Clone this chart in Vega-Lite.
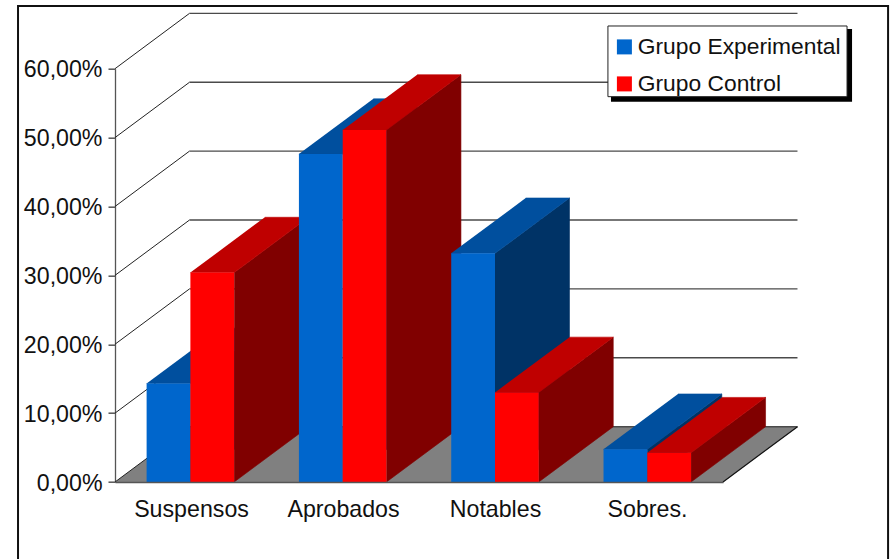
{
  "$schema": "https://vega.github.io/schema/vega-lite/v6.json",
  "width": 608,
  "height": 413.3,
  "padding": {"left": 115, "top": 68.7, "right": 167, "bottom": 77},
  "autosize": {"type": "none"},
  "background": "white",
  "config": {
    "view": {"stroke": null},
    "font": "Liberation Sans"
  },
  "datasets": {
    "resultados": [
      {"categoria": "Suspensos", "grupo": "Grupo Experimental", "valor": 14.3},
      {"categoria": "Suspensos", "grupo": "Grupo Control", "valor": 30.4},
      {"categoria": "Aprobados", "grupo": "Grupo Experimental", "valor": 47.6},
      {"categoria": "Aprobados", "grupo": "Grupo Control", "valor": 51.1},
      {"categoria": "Notables", "grupo": "Grupo Experimental", "valor": 33.2},
      {"categoria": "Notables", "grupo": "Grupo Control", "valor": 13.0},
      {"categoria": "Sobres.", "grupo": "Grupo Experimental", "valor": 4.75},
      {"categoria": "Sobres.", "grupo": "Grupo Control", "valor": 4.25}
    ],
    "niveles": [
      {"nivel": 0}, {"nivel": 10}, {"nivel": 20}, {"nivel": 30},
      {"nivel": 40}, {"nivel": 50}, {"nivel": 60}
    ],
    "esquinas": [{"esquina": 0}, {"esquina": 1}, {"esquina": 2}, {"esquina": 3}],
    "unico": [{"uno": 1}]
  },
  "layer": [
    {
      "data": {"name": "unico"},
      "mark": {"type": "rect", "fill": null, "stroke": "#111111", "strokeWidth": 2},
      "encoding": {
        "x": {"datum": -0.638, "type": "quantitative", "scale": {"domain": [0, 4], "nice": false},
          "axis": {
            "values": [0.5, 1.5, 2.5, 3.5],
            "labelExpr": "['Suspensos','Aprobados','Notables','Sobres.'][floor(datum.value)]",
            "title": null, "grid": false, "tickSize": 0, "labelPadding": 16, "labelFontSize": 23.2,
            "labelColor": "#111111", "domainColor": "#555555", "domainWidth": 1.5, "zindex": 1, "labelFlush": false, "labelOverlap": false
          }
        },
        "x2": {"datum": 5.086},
        "y": {"datum": 69.09, "type": "quantitative", "scale": {"domain": [0, 60], "nice": false},
          "axis": {
            "values": [0, 10, 20, 30, 40, 50, 60],
            "labelExpr": "replace(format(datum.value, '.2f'), '.', ',') + '%'",
            "title": null, "grid": false, "tickSize": 7, "tickColor": "#555555", "tickWidth": 1.5, "labelPadding": 6, "labelFontSize": 23.2, "labelOffset": 1,
            "labelColor": "#111111", "domainColor": "#555555", "domainWidth": 1.3
          }
        },
        "y2": {"datum": -20}
      }
    },
    {
      "data": {"name": "esquinas"},
      "transform": [
        {"calculate": "[0, 4, 4.49, 0.49][datum.esquina]", "as": "px"},
        {"calculate": "[0, 0, 8.03, 8.03][datum.esquina]", "as": "py"}
      ],
      "mark": {"type": "line", "fill": "#808080", "stroke": "#808080", "strokeWidth": 0.5},
      "encoding": {
        "x": {"field": "px", "type": "quantitative", "scale": {"domain": [0, 4], "nice": false}},
        "y": {"field": "py", "type": "quantitative", "scale": {"domain": [0, 60], "nice": false}},
        "order": {"field": "esquina", "type": "ordinal"}
      }
    },
    {
      "data": {"name": "niveles"},
      "transform": [{"calculate": "datum.nivel + 8.03", "as": "fondo"}],
      "mark": {"type": "rule", "stroke": "#222222", "strokeWidth": 1},
      "encoding": {
        "x": {"datum": 0, "type": "quantitative", "scale": {"domain": [0, 4], "nice": false}},
        "x2": {"datum": 0.49},
        "y": {"field": "nivel", "type": "quantitative", "scale": {"domain": [0, 60], "nice": false}},
        "y2": {"field": "fondo"}
      }
    },
    {
      "data": {"name": "niveles"},
      "transform": [{"calculate": "datum.nivel + 8.03", "as": "fondo"}],
      "mark": {"type": "rule", "stroke": "#4a4a4a", "strokeWidth": 1.4},
      "encoding": {
        "x": {"datum": 0.49, "type": "quantitative", "scale": {"domain": [0, 4], "nice": false}},
        "x2": {"datum": 4.49},
        "y": {"field": "fondo", "type": "quantitative", "scale": {"domain": [0, 60], "nice": false}}
      }
    },
    {
      "data": {"name": "unico"},
      "mark": {"type": "rule", "stroke": "#111111", "strokeWidth": 1.2},
      "encoding": {
        "x": {"datum": 4, "type": "quantitative", "scale": {"domain": [0, 4], "nice": false}},
        "x2": {"datum": 4.49},
        "y": {"datum": 0, "type": "quantitative", "scale": {"domain": [0, 60], "nice": false}},
        "y2": {"datum": 8.03}
      }
    },
    {
      "data": {"name": "resultados"},
      "transform": [
        {"calculate": "indexof(['Suspensos','Aprobados','Notables','Sobres.'], datum.categoria)", "as": "idx"},
        {"calculate": "datum.grupo === 'Grupo Control' ? 1 : 0", "as": "g"},
        {"calculate": "0.208 + 1.002 * datum.idx + 0.288 * datum.g", "as": "x0"},
        {"calculate": "datum.x0 + 0.288", "as": "x1"},
        {"calculate": "['lateral', 'tapa']", "as": "cara"},
        {"flatten": ["cara"]},
        {"calculate": "[0, 1, 2, 3]", "as": "vertice"},
        {"flatten": ["vertice"]},
        {"calculate": "datum.categoria + '|' + datum.grupo + '|' + datum.cara", "as": "poligono"},
        {"calculate": "datum.cara === 'lateral' ? [datum.x1, datum.x1 + 0.49, datum.x1 + 0.49, datum.x1][datum.vertice] : [datum.x0, datum.x1, datum.x1 + 0.49, datum.x0 + 0.49][datum.vertice]", "as": "px"},
        {"calculate": "datum.cara === 'lateral' ? [0, 8.03, datum.valor + 8.03, datum.valor][datum.vertice] : [datum.valor, datum.valor, datum.valor + 8.03, datum.valor + 8.03][datum.vertice]", "as": "py"},
        {"calculate": "datum.g === 1 ? (datum.cara === 'lateral' ? '#800000' : '#BF0000') : (datum.cara === 'lateral' ? '#003366' : '#004F9E')", "as": "tono"}
      ],
      "mark": {"type": "line", "strokeWidth": 0.6},
      "encoding": {
        "x": {"field": "px", "type": "quantitative", "scale": {"domain": [0, 4], "nice": false}},
        "y": {"field": "py", "type": "quantitative", "scale": {"domain": [0, 60], "nice": false}},
        "detail": {"field": "poligono"},
        "order": {"field": "vertice", "type": "ordinal"},
        "fill": {"field": "tono", "type": "nominal", "scale": null, "legend": null},
        "stroke": {"field": "tono", "type": "nominal", "scale": null, "legend": null}
      }
    },
    {
      "data": {"name": "resultados"},
      "transform": [
        {"calculate": "indexof(['Suspensos','Aprobados','Notables','Sobres.'], datum.categoria)", "as": "idx"},
        {"calculate": "datum.grupo === 'Grupo Control' ? 1 : 0", "as": "g"},
        {"calculate": "0.208 + 1.002 * datum.idx + 0.288 * datum.g", "as": "x0"},
        {"calculate": "datum.x0 + 0.288", "as": "x1"}
      ],
      "mark": {"type": "rect"},
      "encoding": {
        "x": {"field": "x0", "type": "quantitative", "scale": {"domain": [0, 4], "nice": false}},
        "x2": {"field": "x1"},
        "y": {"field": "valor", "type": "quantitative", "scale": {"domain": [0, 60], "nice": false}},
        "y2": {"datum": 0},
        "color": {
          "field": "grupo", "type": "nominal",
          "scale": {"domain": ["Grupo Experimental", "Grupo Control"], "range": ["#0066CC", "#FF0000"]},
          "legend": {
            "title": null, "orient": "none", "legendX": 498, "legendY": -33.2,
            "padding": 0, "labelLimit": 400,
            "symbolType": "square", "symbolSize": 225, "symbolStrokeWidth": 0,
            "labelFontSize": 22.8, "labelColor": "#111111", "labelOffset": 2, "rowPadding": 13, "symbolOpacity": 1,
            "encoding": {"labels": {"update": {"dy": {"value": -2}}}}
          }
        }
      }
    },
    {
      "data": {"name": "unico"},
      "mark": {"type": "rect", "fill": "#000000"},
      "encoding": {
        "x": {"datum": 3.263, "type": "quantitative", "scale": {"domain": [0, 4], "nice": false}},
        "x2": {"datum": 4.849},
        "y": {"datum": 65.77, "type": "quantitative", "scale": {"domain": [0, 60], "nice": false}},
        "y2": {"datum": 55.2}
      }
    },
    {
      "data": {"name": "unico"},
      "mark": {"type": "rect", "fill": "#ffffff", "stroke": "#222222", "strokeWidth": 1},
      "encoding": {
        "x": {"datum": 3.243, "type": "quantitative", "scale": {"domain": [0, 4], "nice": false}},
        "x2": {"datum": 4.816},
        "y": {"datum": 66.2, "type": "quantitative", "scale": {"domain": [0, 60], "nice": false}},
        "y2": {"datum": 55.94}
      }
    }
  ]
}
